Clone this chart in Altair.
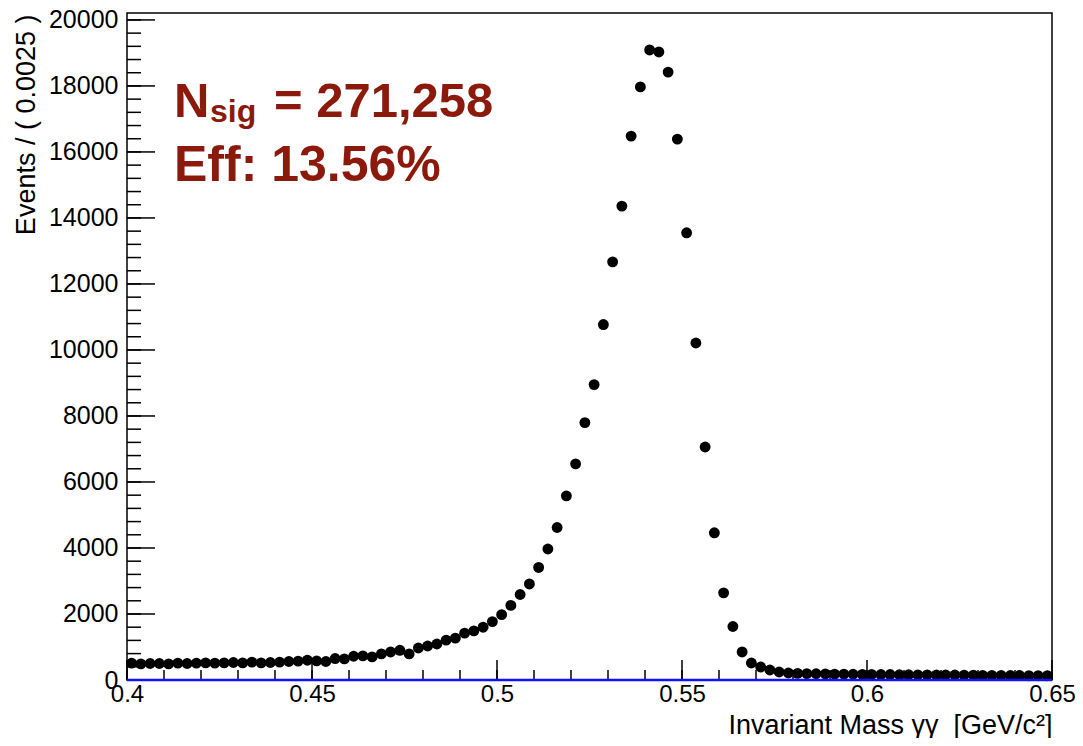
import altair as alt
import pandas as pd

# ---- data ----
bin_low = 0.4
bin_width = 0.0025
counts = [
    510, 490, 500, 500, 490, 510, 500, 510, 520, 510,
    520, 530, 520, 540, 520, 530, 540, 560, 570, 600,
    580, 560, 650, 640, 720, 730, 700, 790, 850, 900,
    790, 970, 1030, 1090, 1210, 1270, 1420, 1490, 1600, 1770,
    1980, 2260, 2590, 2910, 3410, 3970, 4620, 5580, 6550, 7800,
    8950, 10770, 12670, 14360, 16480, 17970, 19090, 19030, 18420, 16390,
    13550, 10210, 7060, 4460, 2640, 1620, 850, 515, 394, 303,
    242, 212, 200, 195, 190, 185, 180, 180, 175, 170,
    170, 165, 165, 160, 160, 155, 155, 150, 150, 150,
    145, 145, 140, 140, 140, 135, 135, 130, 130, 130,
]
x_major = [0.4, 0.45, 0.5, 0.55, 0.6, 0.65]
x_minor = [round(0.4 + 0.01 * i, 2) for i in range(26)]
y_major = list(range(0, 20001, 2000))
y_minor = list(range(0, 20001, 400))
fit_x = [0.4, 0.65]
fit_y = [0, 0]

W, H = 925, 667
FONT = "Liberation Sans"
RED = "#8B1A0C"

df = pd.DataFrame({
    "mass": [bin_low + bin_width * (i + 0.5) for i in range(len(counts))],
    "events": counts,
})

xs = alt.Scale(domain=[0.4, 0.65], nice=False, zero=False)
ys = alt.Scale(domain=[0, 20210], nice=False, zero=True)

x_axis = alt.Axis(
    values=x_major, format="~g", title="Invariant Mass γγ\u00a0\u00a0[GeV/c²]",
    grid=False, ticks=False, domain=False, labelFlush=False, labelOverlap=False,
    labelPadding=2, labelFontSize=24, titleFontSize=27, titleFontWeight="normal",
    titleX=W, titleY=53, titleAlign="right", titleBaseline="alphabetic",
    titleAnchor="end")
y_axis = alt.Axis(
    values=y_major, format="d", title="Events / ( 0.0025 )",
    grid=False, ticks=False, domain=False, labelFlush=False, labelOverlap=False,
    labelPadding=9, labelFontSize=25, titleFontSize=27, titleFontWeight="normal",
    titleX=-93, titleY=1, titleAngle=-90, titleAlign="right",
    titleBaseline="alphabetic", titleAnchor="end")


def X(f):
    return alt.X(f, scale=xs, axis=x_axis)


def Y(f):
    return alt.Y(f, scale=ys, axis=y_axis)


points = alt.Chart(df).mark_circle(size=118, color="black", opacity=1).encode(
    x=X("mass:Q"), y=Y("events:Q"))

xt_major = alt.Chart(pd.DataFrame({"v": x_major})).mark_rule(color="black", strokeWidth=1.5).encode(
    x=X("v:Q"), y=alt.value(H), y2=alt.value(H - 20))
xt_minor = alt.Chart(pd.DataFrame({"v": x_minor})).mark_rule(color="black", strokeWidth=1.5).encode(
    x=X("v:Q"), y=alt.value(H), y2=alt.value(H - 10))
yt_major = alt.Chart(pd.DataFrame({"v": y_major})).mark_rule(color="black", strokeWidth=1.5).encode(
    y=Y("v:Q"), x=alt.value(0), x2=alt.value(28))
yt_minor = alt.Chart(pd.DataFrame({"v": y_minor})).mark_rule(color="black", strokeWidth=1.5).encode(
    y=Y("v:Q"), x=alt.value(0), x2=alt.value(14))

fit = alt.Chart(pd.DataFrame({"x": fit_x, "y": fit_y})).mark_line(color="#1010ff", strokeWidth=2.5).encode(
    x=X("x:Q"), y=Y("y:Q"))


def label(txt, x, y, size):
    return alt.Chart(pd.DataFrame({"t": [txt]})).mark_text(
        align="left", baseline="alphabetic", font=FONT, fontSize=size,
        fontWeight="bold", color=RED).encode(text="t:N", x=alt.value(x), y=alt.value(y))


texts = (label("N", 47, 104, 49) + label("sig", 83, 109, 32)
         + label("= 271,258", 147, 104, 49) + label("Eff: 13.56%", 47, 168, 50))

chart = alt.layer(points, xt_minor, xt_major, yt_minor, yt_major, fit, texts).properties(
    width=W, height=H,
    autosize=alt.AutoSizeParams(type="none"),
    padding={"left": 119, "top": 5, "right": 23, "bottom": 58},
).configure(font=FONT).configure_view(
    stroke="black", strokeWidth=1.5
).configure_axis(labelColor="black", titleColor="black", labelFont=FONT, titleFont=FONT)

chart.save("out.html", embed_options={"renderer": "svg", "actions": False})
